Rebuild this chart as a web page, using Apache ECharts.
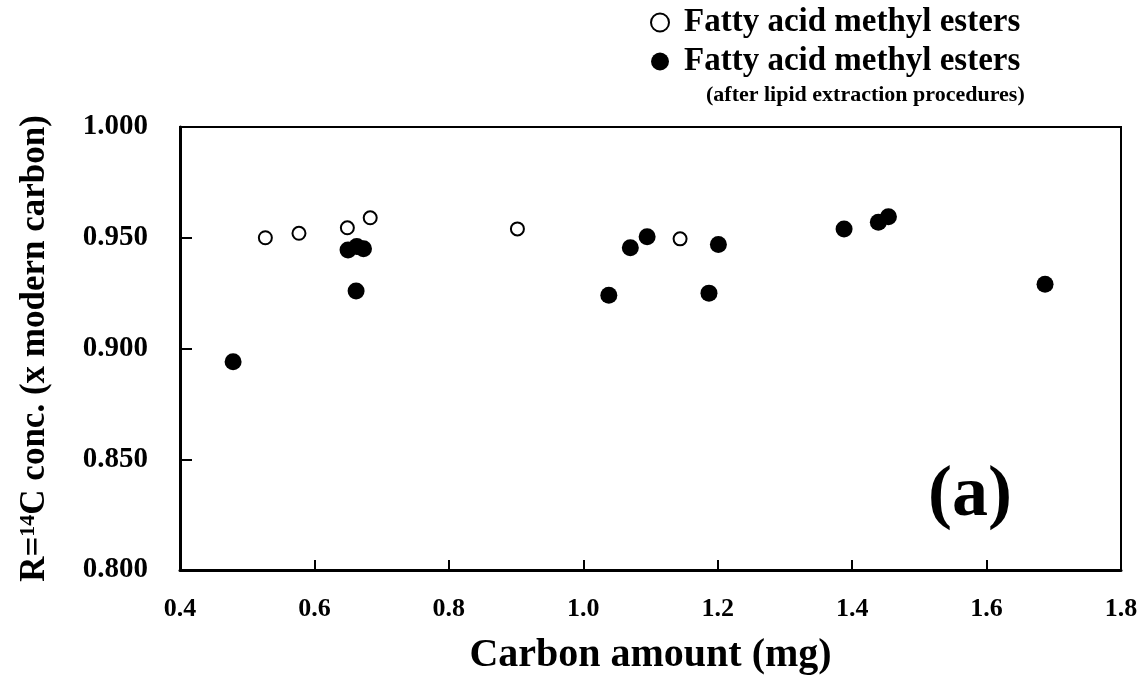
<!DOCTYPE html>
<html>
<head>
<meta charset="utf-8">
<script src="https://cdn.jsdelivr.net/npm/echarts@6/dist/echarts.min.js"></script>
<style>
html,body{margin:0;padding:0;background:#fff;}
#c{width:1141px;height:694px;}
</style>
</head>
<body>
<div id="c"></div>
<script>
// Data
const openX = [0.527, 0.577, 0.649, 0.683, 0.902, 1.144];
const openY = [0.950, 0.952, 0.9545, 0.959, 0.954, 0.9495];
const filledX = [0.479, 0.650, 0.663, 0.673, 0.662, 1.038, 1.070, 1.095, 1.187, 1.201, 1.388, 1.439, 1.454, 1.687];
const filledY = [0.894, 0.9445, 0.946, 0.945, 0.926, 0.924, 0.9455, 0.9505, 0.925, 0.947, 0.954, 0.957, 0.9595, 0.929];
const seriesNames = ['Fatty acid methyl esters', 'Fatty acid methyl esters'];
const legendSub = '(after lipid extraction procedures)';
const xTitle = 'Carbon amount (mg)';
const panelLabel = '(a)';

const FONT = 'Liberation Serif';
const chart = echarts.init(document.getElementById('c'), null, {renderer: 'canvas'});
const pair = (xs, ys) => xs.map((x, i) => [x, ys[i]]);

chart.setOption({
  animation: false,
  backgroundColor: '#fff',
  grid: {left: 180, right: 20, top: 127, bottom: 124, show: true, borderColor: '#000', borderWidth: 2, backgroundColor: 'transparent'},
  legend: {
    orient: 'vertical', left: 645, top: 1, itemGap: 6,
    itemWidth: 18, itemHeight: 18,
    selectedMode: false,
    textStyle: {fontFamily: FONT, fontWeight: 'bold', fontSize: 33, color: '#000', padding: [0, 0, 0, 10]},
    data: [
      {name: 'open', icon: 'circle', itemStyle: {color: '#fff', borderColor: '#000', borderWidth: 2}},
      {name: 'filled', icon: 'circle', itemStyle: {color: '#000', borderWidth: 0}}
    ],
    formatter: n => n === 'open' ? seriesNames[0] : seriesNames[1]
  },
  graphic: [
    {type: 'text', left: 706, top: 84, style: {text: legendSub, font: 'bold 22px "Liberation Serif"', fill: '#000'}},
    {type: 'text', left: 928, top: 460, style: {text: panelLabel, font: 'bold 72px "Liberation Serif"', fill: '#000'}}
  ],
  xAxis: {
    type: 'value', min: 0.4, max: 1.8, interval: 0.2,
    name: xTitle, nameLocation: 'middle', nameGap: 66,
    nameTextStyle: {fontFamily: FONT, fontWeight: 'bold', fontSize: 40, color: '#000'},
    axisLine: {show: true, lineStyle: {color: '#000', width: 3}},
    axisTick: {show: true, inside: true, length: 10, lineStyle: {color: '#000', width: 2}},
    axisLabel: {margin: 26, fontFamily: FONT, fontWeight: 'bold', fontSize: 26, color: '#000', formatter: v => v.toFixed(1)},
    splitLine: {show: false}
  },
  yAxis: {
    type: 'value', min: 0.8, max: 1.0, interval: 0.05,
    name: '{a|R=}{s|14}{a|C conc. (x modern carbon)}', nameLocation: 'middle', nameGap: 128, nameRotate: 90,
    nameTextStyle: {
      color: '#000',
      rich: {
        a: {fontFamily: FONT, fontWeight: 'bold', fontSize: 35, color: '#000', verticalAlign: 'bottom'},
        s: {fontFamily: FONT, fontWeight: 'bold', fontSize: 22, color: '#000', verticalAlign: 'top'}
      }
    },
    axisLine: {show: true, lineStyle: {color: '#000', width: 3}},
    axisTick: {show: true, inside: true, length: 12, lineStyle: {color: '#000', width: 2}},
    axisLabel: {margin: 32, fontFamily: FONT, fontWeight: 'bold', fontSize: 29, color: '#000', formatter: v => v.toFixed(3)},
    splitLine: {show: false}
  },
  series: [
    {name: 'open', type: 'scatter', symbol: 'circle', symbolSize: 13,
     itemStyle: {color: '#fff', borderColor: '#000', borderWidth: 2, opacity: 1},
     data: pair(openX, openY)},
    {name: 'filled', type: 'scatter', symbol: 'circle', symbolSize: 17,
     itemStyle: {color: '#000', opacity: 1},
     data: pair(filledX, filledY)}
  ]
});
</script>
</body>
</html>
